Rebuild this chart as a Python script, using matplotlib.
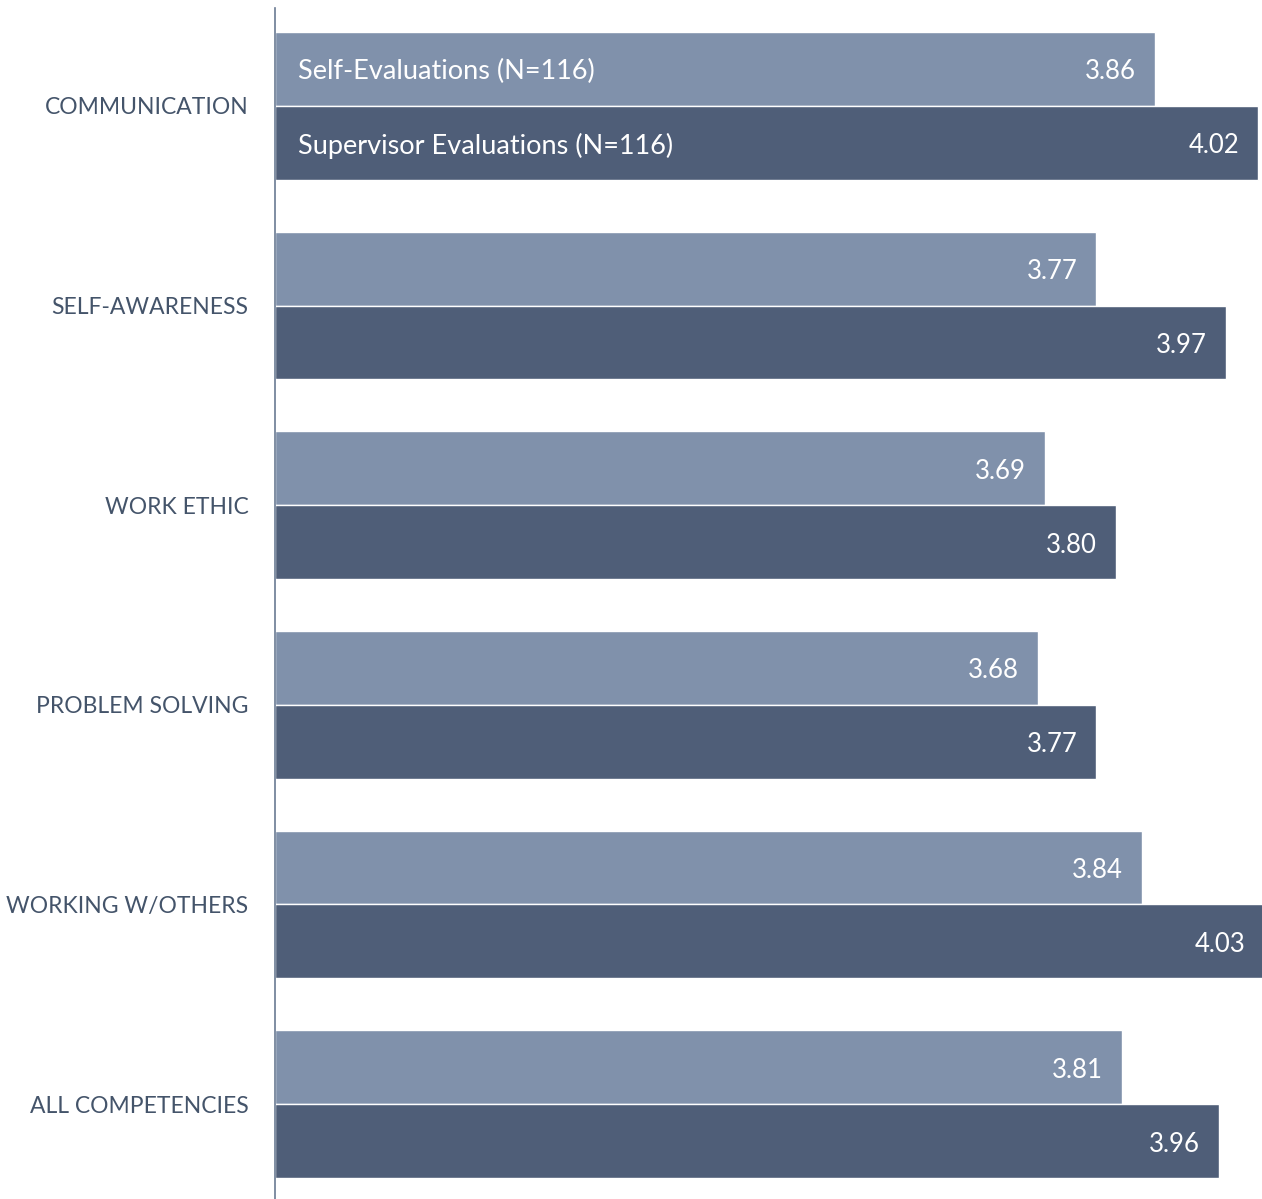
import numpy as np
import matplotlib
matplotlib.use("Agg")
import matplotlib.pyplot as plt

plt.rcParams['font.family'] = ['Lato', 'DejaVu Sans']

# data
categories = ['COMMUNICATION', 'SELF-AWARENESS', 'WORK ETHIC',
              'PROBLEM SOLVING', 'WORKING W/OTHERS', 'ALL COMPETENCIES']
self_eval = [3.86, 3.77, 3.69, 3.68, 3.84, 3.81]
supervisor_eval = [4.02, 3.97, 3.80, 3.77, 4.03, 3.96]
series_names = ['Self-Evaluations (N=116)', 'Supervisor Evaluations (N=116)']

light = '#8091AB'
dark = '#4F5E78'
label_col = '#44546A'

fig = plt.figure(figsize=(12.62, 11.99), dpi=100)
ax = fig.add_axes([275 / 1262, 0, 987 / 1262, 1191 / 1199])

y = np.arange(len(categories))
h = 0.37
base = 2.5
b1 = ax.barh(y - h / 2, np.array(self_eval) - base, left=base, height=h,
             color=light, edgecolor='white', linewidth=1)
b2 = ax.barh(y + h / 2, np.array(supervisor_eval) - base, left=base, height=h,
             color=dark, edgecolor='white', linewidth=1)

for bars, vals in [(b1, self_eval), (b2, supervisor_eval)]:
    for bar, v in zip(bars, vals):
        # the widest bar runs past the right edge, so keep its label anyway
        ax.annotate(f'{v:.2f}', (v, bar.get_y() + bar.get_height() / 2),
                    xytext=(-19, -3), textcoords='offset pixels',
                    ha='right', va='center', color='white', fontsize=18.5,
                    annotation_clip=False)

# series names written inside the first pair of bars
for name, yy in zip(series_names, [y[0] - h / 2, y[0] + h / 2]):
    ax.annotate(name, (base, yy), xytext=(23, -3), textcoords='offset pixels',
                ha='left', va='center', color='white', fontsize=19.5)

ax.set_xlim(base, 4.026)
ax.set_ylim(5.475, -0.49)
ax.set_yticks(y)
ax.set_yticklabels(categories, fontsize=16.5, color=label_col)
ax.tick_params(axis='y', length=0, pad=19)
ax.set_xticks([])
for s in ['top', 'right', 'bottom']:
    ax.spines[s].set_visible(False)
ax.spines['left'].set_color('#6A7A92')
ax.spines['left'].set_linewidth(1.2)

fig.savefig('out.png', dpi=100)
